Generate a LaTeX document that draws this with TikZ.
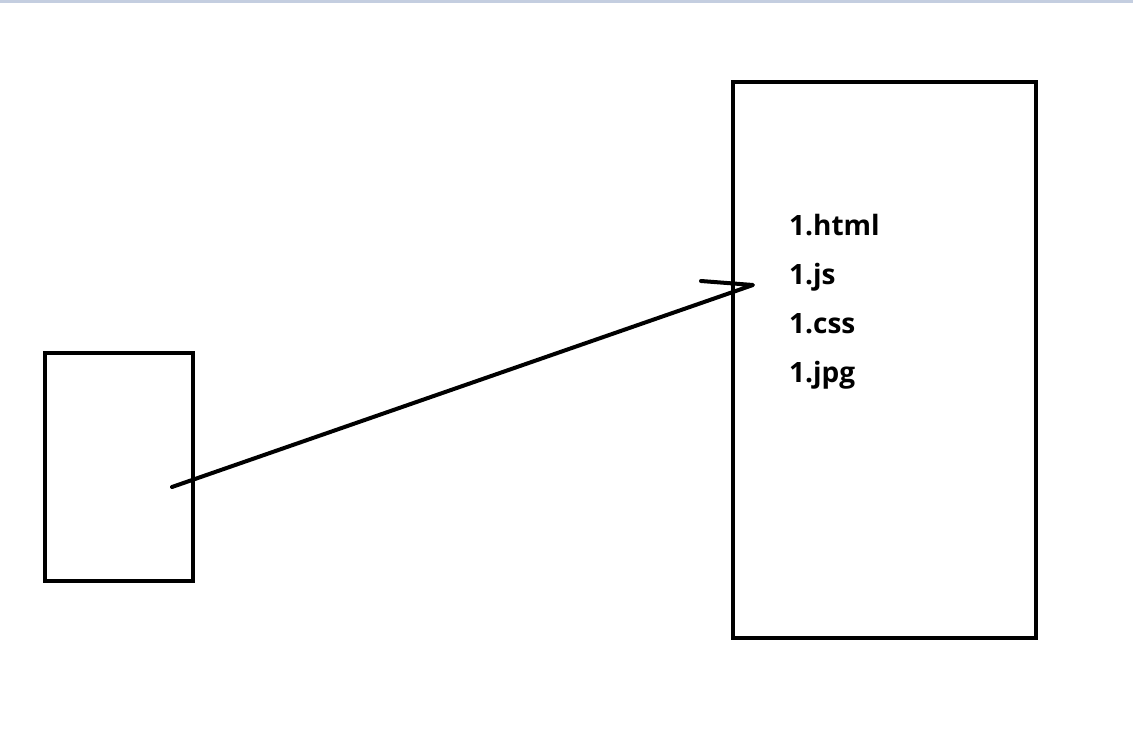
\documentclass[tikz,border=0pt]{standalone}
\usepackage{fontspec}
\setmainfont{Open Sans}
\usepackage{tikz}
\usetikzlibrary{positioning}
\tikzset{
    box/.style={draw,rectangle,line width=4pt,inner sep=0pt,},
    file/.style={anchor=base west,inner sep=0pt,font=\fontsize{28}{32}\selectfont\bfseries,},
    stroke/.style={line width=4pt,line cap=round,line join=round,},
}

\begin{document}
\begin{tikzpicture}[x=1pt,y=-1pt]
                \useasboundingbox (0, 0) rectangle (1133, 735);
                \fill[fill={rgb,255:red,196;green,206;blue,224}] (0, 0) rectangle (1133, 3);

                \node[box, minimum width=148pt, minimum height=228pt] (browser) at (119, 467) {};
                \node[box, minimum width=303pt, minimum height=556pt] (server) at (884.5, 360) {};

                \node[file] (html) at (789, 236) {1.html};
                \node[file] (js) at (789, 285) {1.js};
                \node[file] (css) at (789, 334) {1.css};
                \node[file] (jpg) at (789, 383) {1.jpg};

                \coordinate (start) at (172, 487);
                \coordinate (tip) at (753, 285);
                \coordinate (hook) at (701, 281);

                \draw[stroke] (start) -- (tip) -- (hook);
            \end{tikzpicture}
\end{document}
